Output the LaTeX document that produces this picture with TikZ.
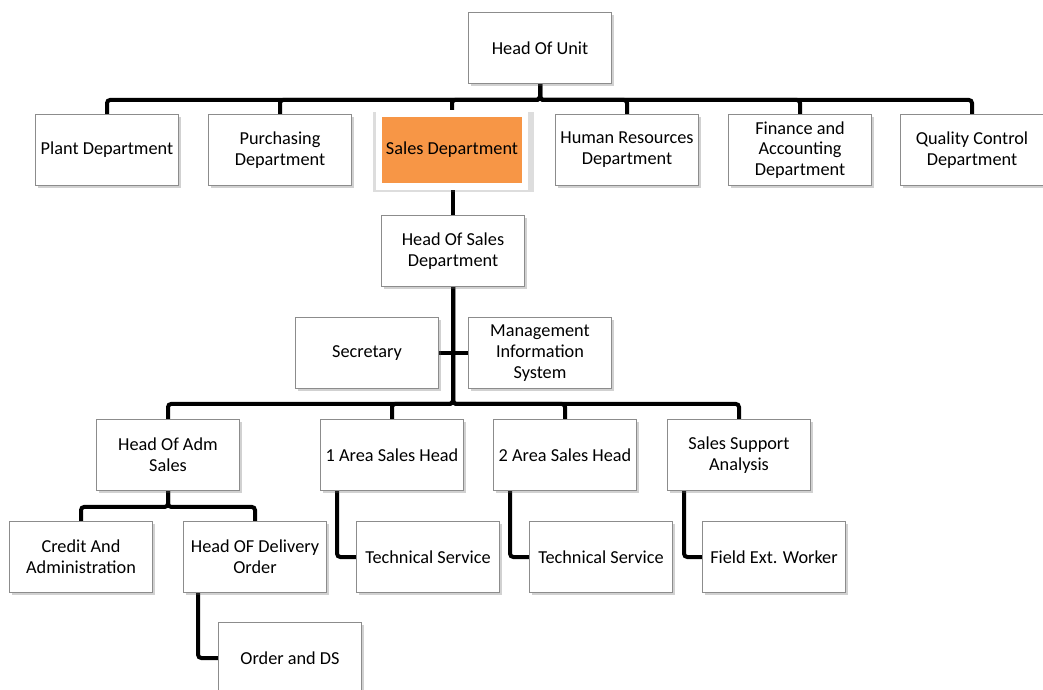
\documentclass[tikz,border=0pt]{standalone}
\usepackage{fontspec}
\setmainfont{Carlito}
\usetikzlibrary{calc,shadows,backgrounds}
\definecolor{clBorder}{HTML}{8C8C8C}
\definecolor{clSales}{HTML}{F79646}
\tikzset{
  orgbox/.style={rectangle, draw=clBorder, line width=0.6pt, fill=white, align=center,
                 minimum width=35.75mm, minimum height=17.75mm, inner sep=2pt,
                 font=\fontsize{13}{14.8}\selectfont,
                 drop shadow={shadow xshift=0.6mm, shadow yshift=-0.7mm, opacity=0.3, fill=black!60}},
  salesbox/.style={rectangle, draw=white, fill=clSales, line width=1.6mm, align=center,
                   minimum width=36.5mm, minimum height=18.2mm, inner sep=2pt,
                   font=\fontsize{13}{14.8}\selectfont,
                   drop shadow={shadow xshift=0.3mm, shadow yshift=-0.4mm, shadow scale=1.1,
                                opacity=0.22, fill=black!60}},
  conn/.style={line width=1mm, draw=black, rounded corners=0.8mm},
}

\begin{document}
\begin{tikzpicture}[x=0.25mm, y=-0.25mm]
  \useasboundingbox (0,0) rectangle (1043,689);
  % top level
  \node[orgbox] (unit) at (540,48) {Head Of Unit};
  \node[orgbox] (plant) at (107,150) {Plant Department};
  \node[orgbox] (purch) at (280,150) {Purchasing\\Department};
  \node[salesbox] (sales) at (452,150) {Sales Department};
  \node[orgbox] (hr) at (627,150) {Human Resources\\Department};
  \node[orgbox] (fin) at (800,150) {Finance and\\Accounting\\Department};
  \node[orgbox] (qc) at (972,150) {Quality Control\\Department};
  % sales department
  \node[orgbox] (hsales) at (453,251) {Head Of Sales\\Department};
  \node[orgbox] (sec) at (367,353) {Secretary};
  \node[orgbox] (mis) at (540,353) {Management\\Information\\System};
  \node[orgbox] (adm) at (168,455) {Head Of Adm\\Sales};
  \node[orgbox] (area1) at (392,455) {1 Area Sales Head};
  \node[orgbox] (area2) at (565,455) {2 Area Sales Head};
  \node[orgbox] (supp) at (739,455) {Sales Support\\Analysis};
  \node[orgbox] (credit) at (81,557) {Credit And\\Administration};
  \node[orgbox] (deliv) at (255,557) {Head OF Delivery\\Order};
  \node[orgbox] (tech1) at (428,557) {Technical Service};
  \node[orgbox] (tech2) at (601,557) {Technical Service};
  \node[orgbox] (field) at (774,557) {Field Ext. Worker};
  \node[orgbox] (order) at (290,658) {Order and DS};

  \begin{scope}[on background layer]
    \foreach \n in {plant,purch,sales,hr,fin,qc}
      \draw[conn] (unit.south) -- ++(0,16) -| (\n.north);
    \draw[conn] (hsales.north) -- (hsales.north |- sales.south);
    \foreach \n in {adm,area1,area2,supp}
      \draw[conn] (hsales.south) -- ++(0,117) -| (\n.north);
    \draw[conn] (sec.east) -- (mis.west);
    \foreach \n in {credit,deliv}
      \draw[conn] (adm.south) -- ++(0,16) -| (\n.north);
    \draw[conn] ($(deliv.south west)+(15,0)$) |- (order.west);
    \draw[conn] ($(area1.south west)+(17,0)$) |- (tech1.west);
    \draw[conn] ($(area2.south west)+(17,0)$) |- (tech2.west);
    \draw[conn] ($(supp.south west)+(17,0)$) |- (field.west);
  \end{scope}
\end{tikzpicture}
\end{document}
